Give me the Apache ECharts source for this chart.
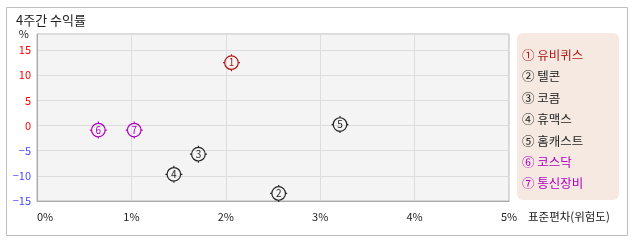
<!DOCTYPE html>
<html><head><meta charset="utf-8">
<script src="https://cdn.jsdelivr.net/npm/echarts@6/dist/echarts.min.js"></script>
<style>html,body{margin:0;padding:0;background:#fff}#c{width:638px;height:242px}</style>
</head><body><div id="c"></div>
<script>
const names = ['① 유비퀴스','② 텔콘','③ 코콤','④ 휴맥스','⑤ 홈캐스트','⑥ 코스닥','⑦ 통신장비'];
const digits = ['1','2','3','4','5','6','7'];
const riskX = [2.06, 2.56, 1.71, 1.45, 3.21, 0.65, 1.03];
const returnY = [12.5, -13.5, -5.7, -9.7, 0.2, -0.9, -0.9];
const colors = ['#b01a1a','#222222','#222222','#222222','#222222','#b000c0','#b000c0'];
const xTicks = [0,1,2,3,4,5];
const yTicks = [-15,-10,-5,0,5,10,15];

const FONT = '"Noto Sans CJK KR", "DejaVu Sans", sans-serif';
const sym = 'path://M10,2 A8,8 0 1 1 9.99,2 Z M10,0 L10,2 M10,18 L10,20 M0,10 L2,10 M18,10 L20,10';

const series = names.map((n,i)=>({
  name:n, type:'scatter',
  data:[[riskX[i], returnY[i]]],
  symbol: sym, symbolSize: 17,
  itemStyle:{color:'rgba(0,0,0,0)', borderColor:colors[i], borderWidth:1.2, opacity:1},
  label:{show:true, position:'inside', formatter:digits[i], color:colors[i], fontSize:10, fontFamily:FONT},
  emphasis:{disabled:true}, z:3
}));

const chart = echarts.init(document.getElementById('c'));
chart.setOption({
  animation:false,
  textStyle:{fontFamily:FONT},
  title:{text:'4주간 수익률', left:16, top:14, padding:0,
    textStyle:{fontSize:13, fontWeight:'normal', color:'#222', fontFamily:FONT}},
  graphic:[
    {type:'rect', shape:{x:6.5,y:7.5,width:621,height:228}, style:{fill:'none', stroke:'#bdbdbd', lineWidth:1}, z:-10},
    {type:'rect', shape:{x:517,y:33,width:102,height:167,r:6}, style:{fill:'#f5e9e2'}, z:-5}
  ],
  grid:{left:37, top:34, right:129, bottom:41, show:true, backgroundColor:'#f4f4f4', borderColor:'#b8b8b8', borderWidth:1},
  legend:{orient:'vertical', left:517, top:48, padding:0, itemWidth:0, itemHeight:14, itemGap:8.2,
    icon:'none', selectedMode:false,
    data:names.map((n,i)=>({name:n, textStyle:{color:colors[i]}})),
    textStyle:{fontSize:12.5, fontFamily:FONT}},
  xAxis:{type:'value', min:xTicks[0], max:xTicks[xTicks.length-1], interval:1,
    name:'표준편차(위험도)', nameLocation:'end', nameGap:19,
    nameTextStyle:{fontSize:11.5, color:'#222', verticalAlign:'top', lineHeight:12, padding:[10,0,0,0], fontFamily:FONT},
    axisLine:{show:true, onZero:false, lineStyle:{color:'#aaaaaa'}}, axisTick:{show:false},
    splitLine:{show:true, lineStyle:{color:'#dddddd'}},
    axisLabel:{formatter:v=>v+'%', fontSize:11, color:'#222', margin:10, alignMinLabel:'left', fontFamily:FONT}},
  yAxis:{type:'value', min:yTicks[0], max:18.2, interval:5,
    name:'%', nameLocation:'end', nameGap:0,
    nameTextStyle:{fontSize:11, color:'#222', align:'right', verticalAlign:'middle', padding:[0,8,0,0], fontFamily:FONT},
    axisLine:{show:true, onZero:false, lineStyle:{color:'#aaaaaa'}}, axisTick:{show:false},
    splitLine:{show:true, lineStyle:{color:'#dddddd'}},
    axisLabel:{showMaxLabel:false, fontSize:11, margin:6, fontFamily:FONT,
      formatter:v=> (yTicks.indexOf(v)>=0 ? String(v).replace('-','−') : ''),
      color:v=> (Number(v)<0 ? '#4848ff' : '#ff0000')}},
  series:series
});
</script></body></html>
